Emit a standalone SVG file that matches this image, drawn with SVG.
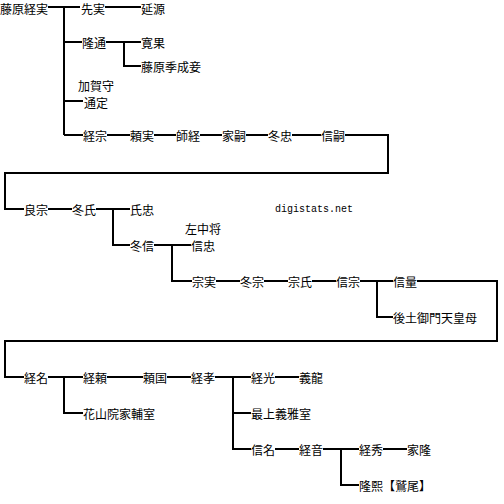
<svg xmlns="http://www.w3.org/2000/svg" width="504" height="504" viewBox="0 0 504 504">
<style>
text{font-family:"Noto Sans CJK JP","Noto Sans CJK SC",sans-serif;font-size:12px;fill:#000;dominant-baseline:central}
.c{fill:none;stroke:#000;stroke-width:2}
.w{font-family:"Liberation Mono",monospace;font-size:10px}
.m{text-anchor:middle}
</style>
<rect width="504" height="504" fill="#fff"/>
<g id="connectors" class="c">
<path d="M48,7H80M64,7V135M105,7H141"/>
<path d="M64,42H82M106,42H141M124,42V66H141"/>
<path d="M64,101H83"/>
<path d="M64,135H83M107,135H130M154,135H176M200,135H222M246,135H268M292,135H321M345,135H388V173H5V209H24"/>
<path d="M48,209H72M96,209H130M113,209V245H130M154,245H191M172,245V281H192"/>
<path d="M216,281H240M264,281H288M312,281H336M360,281H393M377,281V317H393M417,281H497V341H5V377H24"/>
<path d="M48,377H83M64,377V413H83M107,377H143M167,377H191M215,377H251M233,377V449H251M233,413H251"/>
<path d="M275,377H299M275,449H299M323,449H359M341,449V485H359M383,449H407"/>
</g>
<g id="n1"><text x="0" y="8">藤原経実</text></g>
<g id="n2"><text x="81" y="8">先実</text></g>
<g id="n3"><text x="141" y="8">延源</text></g>
<g id="n4"><text x="82" y="42">隆通</text></g>
<g id="n5"><text x="141" y="42">寛果</text></g>
<g id="n6"><text x="141" y="66">藤原季成妾</text></g>
<g id="n7"><text class="m" x="96" y="85">加賀守</text><text class="m" x="96" y="102">通定</text></g>
<g id="n8"><text x="83" y="135">経宗</text></g>
<g id="n9"><text x="130" y="135">頼実</text></g>
<g id="n10"><text x="176" y="135">師経</text></g>
<g id="n11"><text x="222" y="135">家嗣</text></g>
<g id="n12"><text x="268" y="135">冬忠</text></g>
<g id="n13"><text x="321" y="135">信嗣</text></g>
<g id="n14"><text x="24" y="209">良宗</text></g>
<g id="n15"><text x="72" y="209">冬氏</text></g>
<g id="n16"><text x="130" y="209">氏忠</text></g>
<g id="n17"><text x="130" y="245">冬信</text></g>
<g id="n18"><text class="m" x="203" y="228">左中将</text><text x="191" y="245">信忠</text></g>
<g id="n19"><text x="192" y="281">宗実</text></g>
<g id="n20"><text x="240" y="281">冬宗</text></g>
<g id="n21"><text x="288" y="281">宗氏</text></g>
<g id="n22"><text x="336" y="281">信宗</text></g>
<g id="n23"><text x="393" y="281">信量</text></g>
<g id="n24"><text x="393" y="317">後土御門天皇母</text></g>
<g id="n25"><text x="24" y="377">経名</text></g>
<g id="n26"><text x="83" y="377">経頼</text></g>
<g id="n27"><text x="83" y="413">花山院家輔室</text></g>
<g id="n28"><text x="143" y="377">頼国</text></g>
<g id="n29"><text x="191" y="377">経孝</text></g>
<g id="n30"><text x="251" y="377">経光</text></g>
<g id="n31"><text x="299" y="377">義龍</text></g>
<g id="n32"><text x="251" y="413">最上義雅室</text></g>
<g id="n33"><text x="251" y="449">信名</text></g>
<g id="n34"><text x="299" y="449">経音</text></g>
<g id="n35"><text x="359" y="449">経秀</text></g>
<g id="n36"><text x="407" y="449">家隆</text></g>
<g id="n37"><text x="359" y="485">隆熙【鷲尾】</text></g>
<text class="w" x="275" y="209">digistats.net</text>
</svg>
